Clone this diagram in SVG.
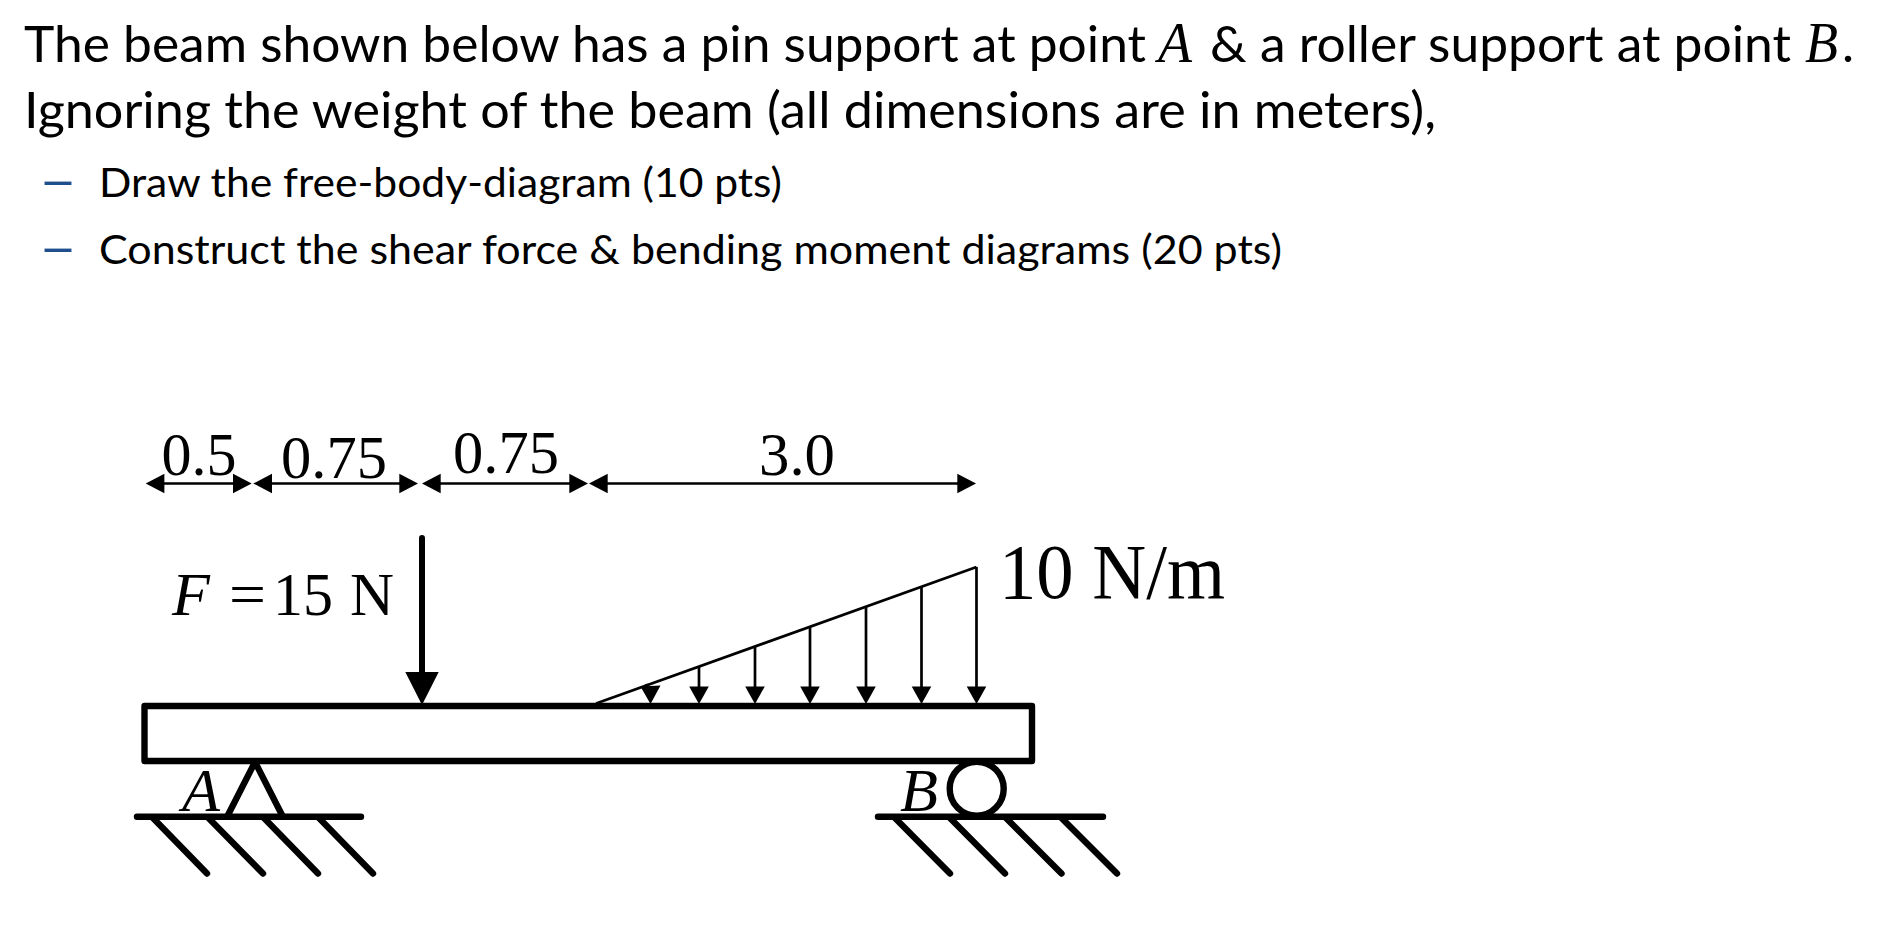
<svg xmlns="http://www.w3.org/2000/svg" width="1897" height="943" viewBox="0 0 1897 943">
<style>
.h{font-family:"Lato","Liberation Sans",sans-serif;fill:#000;font-size:51px}
.b{font-family:"Lato","Liberation Sans",sans-serif;fill:#000;font-size:41px}
.d{font-family:"Lato","Liberation Sans",sans-serif;fill:#1f4e8c;font-size:52px}
.m{font-family:"Liberation Serif","Times New Roman",serif;fill:#000;font-size:62px}
.t{font-family:"Liberation Serif","Times New Roman",serif;fill:#000;font-size:56px;font-style:italic}
.i{font-style:italic}
.thick{fill:none;stroke:#000;stroke-width:6.4;stroke-linecap:round;stroke-linejoin:round}
.thin{fill:none;stroke:#000;stroke-width:2.7}
.head{fill:#000;stroke:none}
</style>
<defs>
<path id="al" d="M0 0 L18.7 -9.7 L18.7 9.7 Z"/>
<path id="ar" d="M0 0 L-18.7 -9.7 L-18.7 9.7 Z"/>
<path id="ah" d="M0 0 L-9.8 -17.6 L9.8 -17.6 Z"/>
</defs>
<g id="statement">
<text class="h" x="24" y="62" textLength="1122" lengthAdjust="spacingAndGlyphs">The beam shown below has a pin support at point</text>
<text class="t" x="1158" y="62" textLength="34" lengthAdjust="spacingAndGlyphs">A</text>
<text class="h" x="1210" y="62" textLength="581" lengthAdjust="spacingAndGlyphs">&amp; a roller support at point</text>
<text class="t" x="1805" y="62" textLength="33" lengthAdjust="spacingAndGlyphs">B</text>
<text class="h" x="1842" y="62">.</text>
<text class="h" x="24" y="128" textLength="1412" lengthAdjust="spacingAndGlyphs">Ignoring the weight of the beam (all dimensions are in meters),</text>
<text class="d" x="38.5" y="199" textLength="39" lengthAdjust="spacingAndGlyphs">–</text>
<text class="b" x="99" y="197" textLength="683" lengthAdjust="spacingAndGlyphs">Draw the free-body-diagram (10 pts)</text>
<text class="d" x="38.5" y="266" textLength="39" lengthAdjust="spacingAndGlyphs">–</text>
<text class="b" x="99" y="264" textLength="1183" lengthAdjust="spacingAndGlyphs">Construct the shear force &amp; bending moment diagrams (20 pts)</text>
</g>
<g id="beam"><rect class="thick" x="144.5" y="706" width="887.5" height="55"/></g>
<g id="support-a">
<path class="thick" d="M228 815 L255 762 L282 815"/>
<path class="thick" d="M137 816.7 H361 M152 817 L207 873.5 M207.5 817 L263 873.5 M263 817 L318 873.5 M318 817 L373 873.5"/>
<text class="m i" x="182" y="811" textLength="38" lengthAdjust="spacingAndGlyphs">A</text>
</g>
<g id="support-b">
<circle class="thick" cx="976.7" cy="788.7" r="27"/>
<path class="thick" d="M878 816.7 H1103 M894 817 L950 873.5 M949 817 L1005 873.5 M1005 817 L1061.5 873.5 M1060.5 817 L1117 873.5"/>
<text class="m i" x="900" y="811" textLength="38" lengthAdjust="spacingAndGlyphs">B</text>
</g>
<g id="connectors">
<path class="thin" d="M150 483.5 H248 M257 483.5 H414 M426 483.5 H584 M593 483.5 H972"/>
<g class="head">
<use href="#al" x="145.7" y="483.5"/><use href="#ar" x="251.7" y="483.5"/>
<use href="#al" x="253.3" y="483.5"/><use href="#ar" x="418" y="483.5"/>
<use href="#al" x="422" y="483.5"/><use href="#ar" x="588" y="483.5"/>
<use href="#al" x="589" y="483.5"/><use href="#ar" x="976" y="483.5"/>
</g>
<path d="M422 538 V680" fill="none" stroke="#000" stroke-width="6" stroke-linecap="round"/>
<path class="head" d="M422 705 L405.3 672 L438.7 672 Z"/>
<path class="thin" d="M596 703.5 L976.5 567"/>
<path class="thin" d="M646 684 L650 695 M699 666 V692 M755 647 V692 M810 627 V692 M866 607 V692 M921.5 587 V692 M976.5 567 V692"/>
<g class="head">
<path d="M650.5 704 L640.5 686.5 L660.5 685.5 Z"/>
<use href="#ah" x="699" y="704"/>
<use href="#ah" x="755" y="704"/>
<use href="#ah" x="810" y="704"/>
<use href="#ah" x="866" y="704"/>
<use href="#ah" x="921.5" y="704"/>
<use href="#ah" x="976.5" y="704"/>
</g>
</g>
<g id="labels">
<text class="m" x="161.5" y="475" textLength="75" lengthAdjust="spacingAndGlyphs">0.5</text>
<text class="m" x="281" y="478" textLength="106" lengthAdjust="spacingAndGlyphs">0.75</text>
<text class="m" x="453" y="473" textLength="106" lengthAdjust="spacingAndGlyphs">0.75</text>
<text class="m" x="759" y="475" textLength="76" lengthAdjust="spacingAndGlyphs">3.0</text>
<text class="m i" x="172" y="615">F</text>
<text class="m" x="229" y="615" textLength="37" lengthAdjust="spacingAndGlyphs">=</text>
<text class="m" x="273" y="615" textLength="60" lengthAdjust="spacingAndGlyphs">15</text>
<text class="m" x="350" y="615" textLength="44" lengthAdjust="spacingAndGlyphs">N</text>
<text class="m" x="999" y="598" style="font-size:78px" textLength="226" lengthAdjust="spacingAndGlyphs">10 N/m</text>
</g>
</svg>
